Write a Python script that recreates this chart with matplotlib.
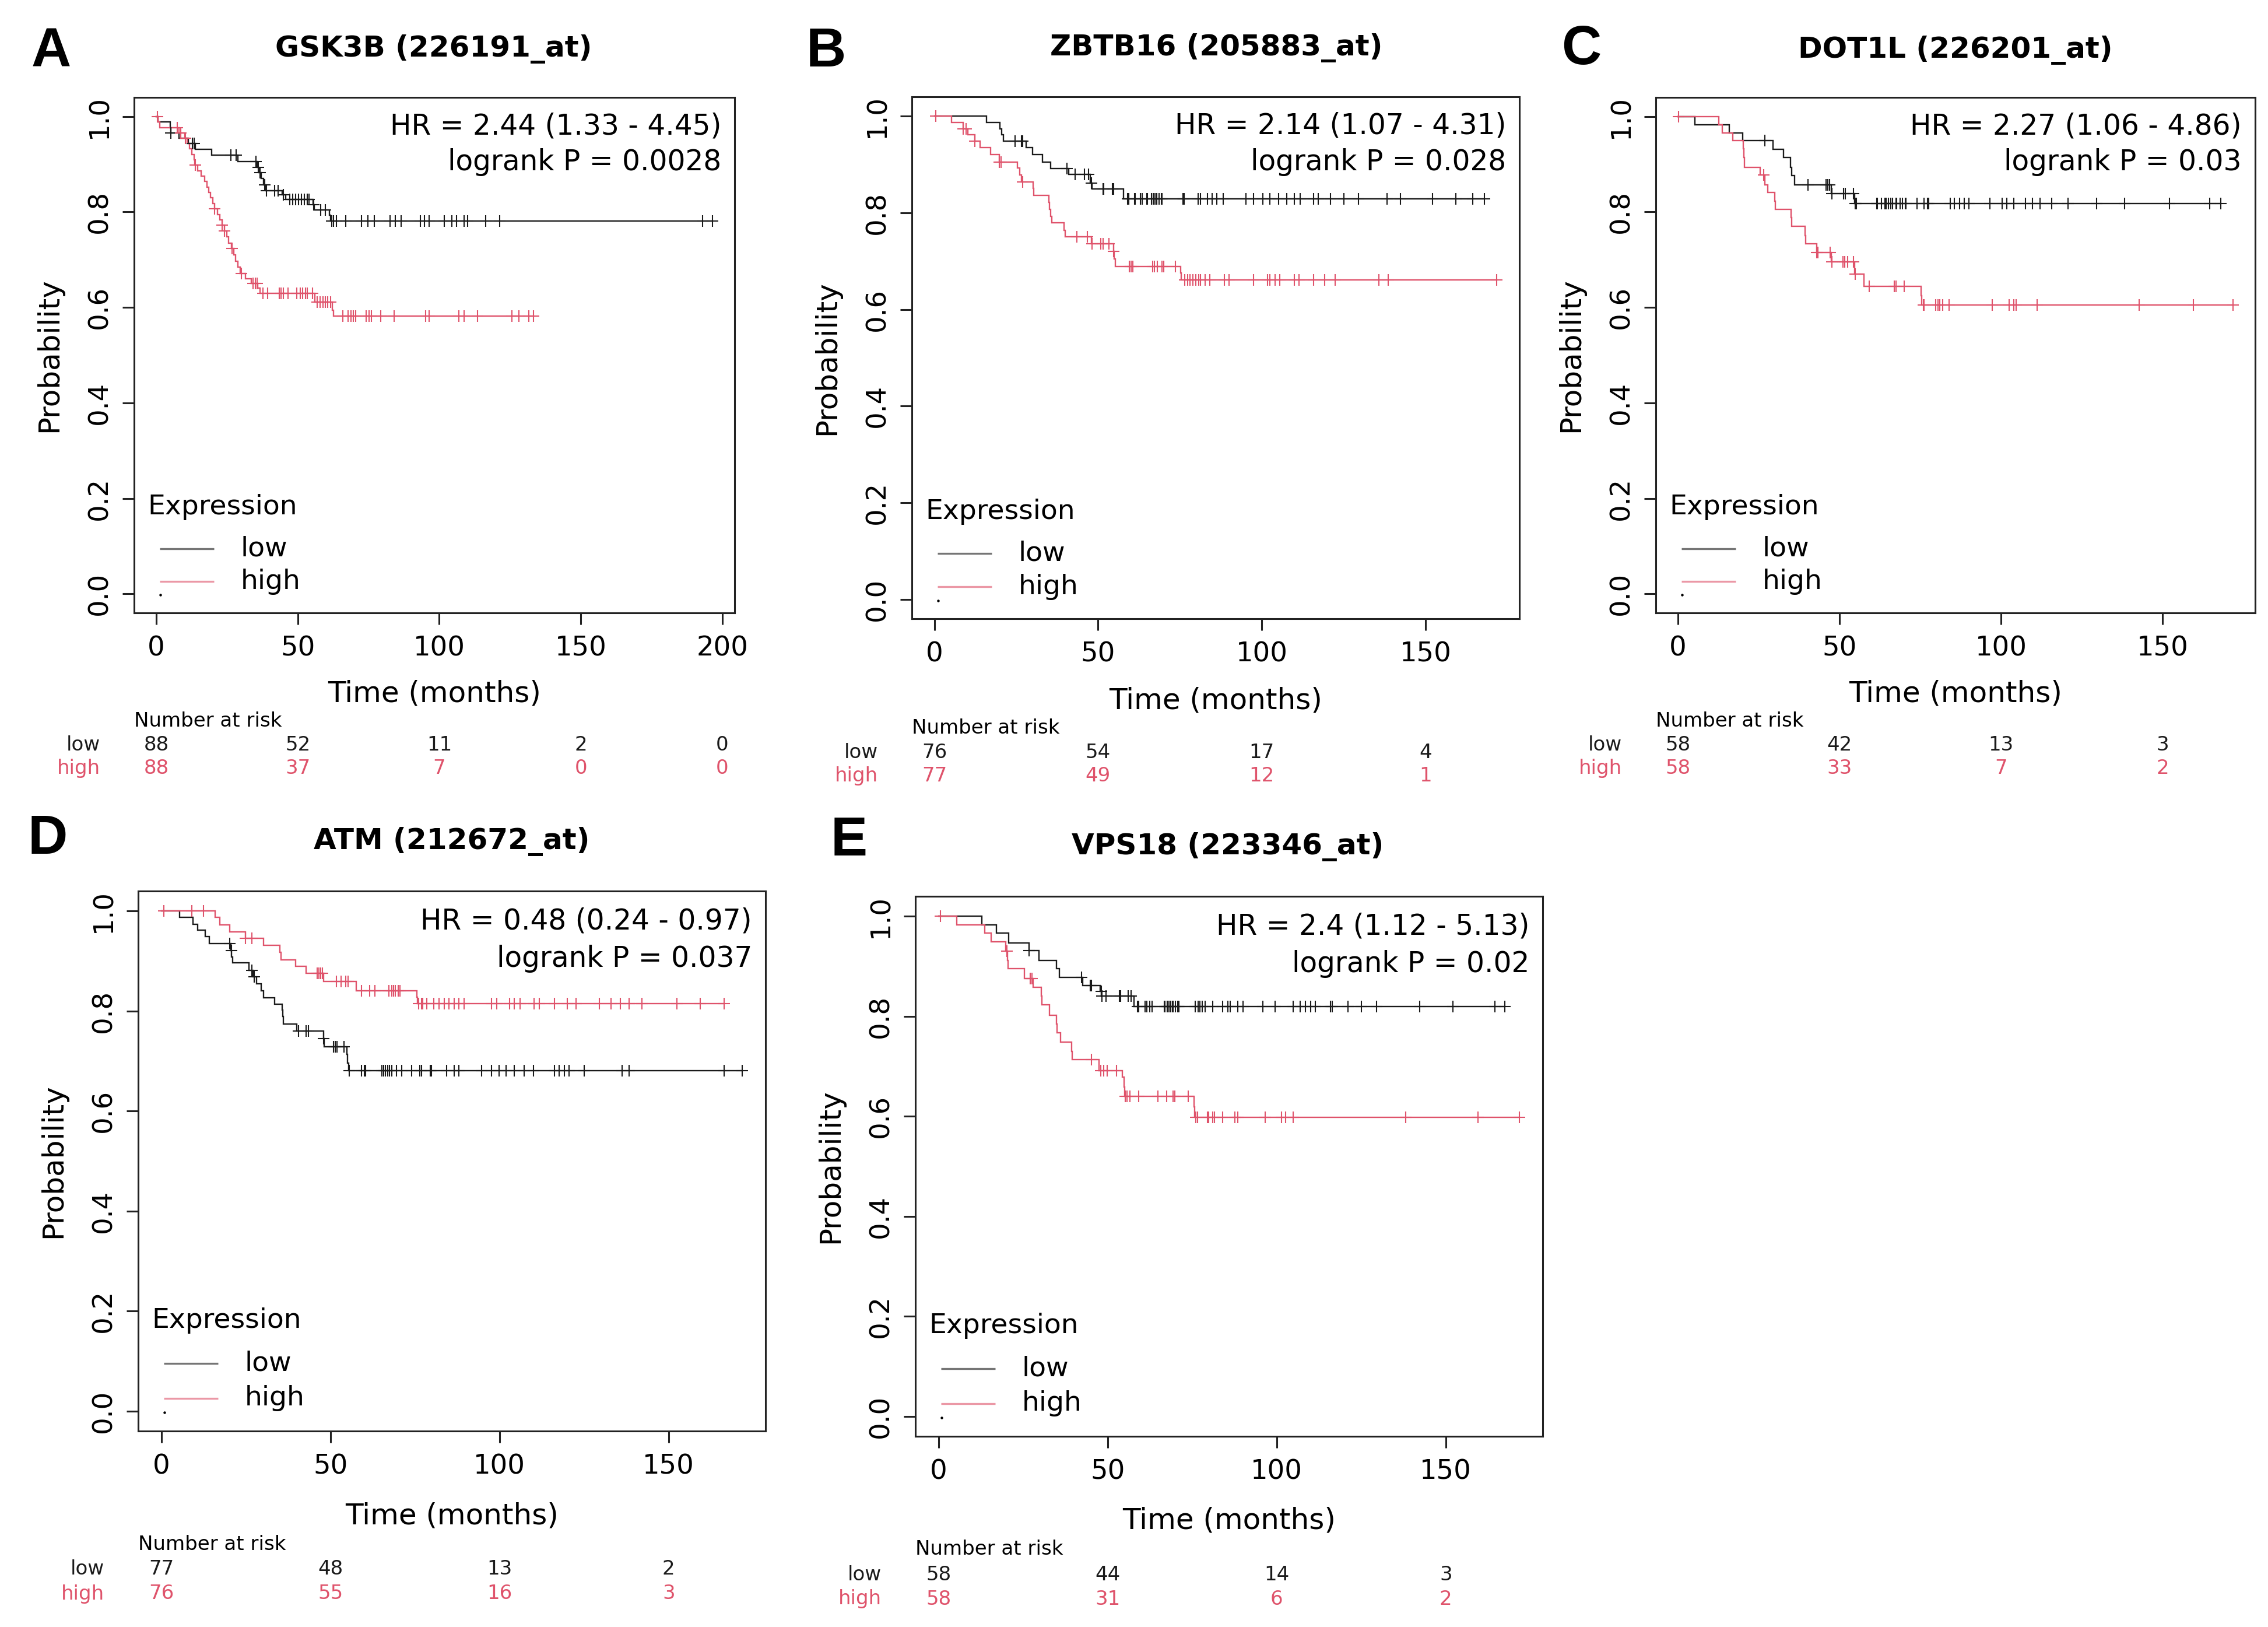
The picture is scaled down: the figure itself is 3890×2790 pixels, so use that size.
import numpy as np
import matplotlib
matplotlib.use("Agg")
import matplotlib.pyplot as plt
from matplotlib.transforms import blended_transform_factory

W, H = 3891, 2790
DPI = 100
LOW_COLOR = "#1a1a1a"
HIGH_COLOR = "#DF536B"

# ---------------- data ----------------
# Panel A : GSK3B
A_title = "GSK3B (226191_at)"
A_hr = "HR = 2.44 (1.33 - 4.45)"
A_p = "logrank P = 0.0028"
A_low_t = [0, 0.5, 4.9, 5.2, 8.0, 11.3, 13.8, 19.6, 28.8, 35.6, 36.3, 37.0, 37.8, 38.8, 44.5, 45.8, 55.4, 55.9, 61.2, 61.6]
A_low_s = [1.0, 0.989, 0.977, 0.966, 0.955, 0.943, 0.931, 0.919, 0.906, 0.894, 0.882, 0.870, 0.857, 0.845, 0.836, 0.826, 0.815, 0.804, 0.793, 0.781]
A_low_cens = [5.2, 12.7, 13.4, 26.4, 28.1, 35.3, 36.0, 36.6, 38.3, 39.0, 41.7, 43.1, 44.8, 47.2, 48.2, 49.3,
              50.3, 51.3, 52.3, 53.4, 54.0, 55.7, 58.1, 59.8, 61.9, 62.6, 63.6, 67.0, 72.4, 74.7, 77.0, 82.6,
              84.4, 86.6, 93.3, 94.7, 96.4, 101.8, 104.4, 106.1, 108.7, 110.0, 116.3, 121.4, 193.0, 196.5]
A_high_t = [0, 0.5, 1.3, 8.0, 10.0, 10.8, 11.8, 12.6, 13.3, 13.6, 14.5, 15.8, 17.0, 17.8, 18.5, 19.2, 20.0, 20.6,
            21.6, 22.4, 23.2, 24.0, 24.8, 25.6, 26.5, 27.3, 28.0, 28.8, 29.6, 31.5, 33.5, 35.8, 36.6, 56.1, 62.2, 62.6]
A_high_s = [1.0, 0.989, 0.977, 0.966, 0.955, 0.943, 0.932, 0.920, 0.909, 0.898, 0.886, 0.875, 0.864, 0.852, 0.841,
            0.830, 0.818, 0.807, 0.795, 0.784, 0.773, 0.760, 0.748, 0.735, 0.723, 0.710, 0.697, 0.684, 0.671, 0.660,
            0.650, 0.640, 0.630, 0.611, 0.594, 0.582]
A_high_cens = [0.4, 7.3, 8.6, 10.3, 13.8, 20.6, 23.3, 24.0, 26.7, 30.1, 34.2, 34.9, 35.6, 37.6, 39.4, 43.4, 44.1,
               44.8, 46.5, 49.6, 50.9, 51.6, 52.7, 53.4, 55.1, 56.8, 57.8, 58.8, 59.8, 60.5, 61.5, 66.0, 67.7,
               68.7, 69.7, 70.4, 74.2, 75.2, 75.9, 79.3, 84.0, 95.1, 96.4, 107.0, 108.7, 113.4, 125.6, 128.1,
               131.6, 133.3]
A_risk_times = [0, 50, 100, 150, 200]
A_risk_low = [88, 52, 11, 2, 0]
A_risk_high = [88, 37, 7, 0, 0]
A_xticks = [0, 50, 100, 150, 200]

# Panel B : ZBTB16
B_title = "ZBTB16 (205883_at)"
B_hr = "HR = 2.14 (1.07 - 4.31)"
B_p = "logrank P = 0.028"
B_low_t = [0, 15.9, 20.1, 20.5, 21.0, 28.1, 29.9, 33.1, 35.5, 41.1, 47.6, 48.2, 57.7]
B_low_s = [1.0, 0.987, 0.974, 0.961, 0.948, 0.935, 0.921, 0.905, 0.892, 0.879, 0.862, 0.849, 0.829]
B_low_cens = [24.6, 26.6, 27.0, 40.5, 42.9, 45.8, 47.0, 47.9, 51.5, 51.8, 54.4, 54.7, 59.1, 59.4, 61.2, 61.3,
              63.0, 63.5, 64.8, 65.0, 66.4, 66.8, 67.4, 67.9, 68.0, 68.6, 69.4, 69.5, 75.9, 76.3, 80.6, 81.2,
              83.4, 84.9, 86.3, 88.3, 95.2, 97.4, 100.3, 102.5, 105.2, 107.7, 110.0, 111.7, 115.8, 117.3,
              121.0, 125.0, 129.5, 138.2, 142.3, 152.2, 159.3, 164.4, 168.0]
B_high_t = [0, 5.3, 8.8, 10.3, 12.4, 13.9, 17.1, 19.8, 25.4, 26.0, 26.6, 30.2, 30.4, 34.9, 35.2, 35.5, 35.8,
            39.6, 39.9, 47.9, 54.7, 54.9, 55.3, 75.2, 75.4]
B_high_s = [1.0, 0.987, 0.974, 0.961, 0.948, 0.935, 0.920, 0.905, 0.893, 0.878, 0.864, 0.850, 0.836, 0.822,
            0.807, 0.793, 0.779, 0.764, 0.750, 0.736, 0.720, 0.705, 0.689, 0.675, 0.661]
B_high_cens = [0.5, 8.8, 9.7, 12.4, 19.8, 20.4, 26.9, 43.5, 46.7, 48.2, 50.9, 51.5, 53.3, 54.7, 59.5, 60.1,
               60.7, 66.6, 67.2, 68.1, 69.5, 70.1, 73.7, 76.4, 77.3, 78.1, 79.0, 79.9, 80.8, 81.2, 82.7, 84.1,
               88.6, 90.0, 97.4, 101.8, 102.5, 104.0, 105.5, 109.9, 111.4, 115.8, 119.2, 122.4, 135.7, 138.6,
               171.8]
B_risk_times = [0, 50, 100, 150]
B_risk_low = [76, 54, 17, 4]
B_risk_high = [77, 49, 12, 1]
B_xticks = [0, 50, 100, 150]

# Panel C : DOT1L
C_title = "DOT1L (226201_at)"
C_hr = "HR = 2.27 (1.06 - 4.86)"
C_p = "logrank P = 0.03"
C_low_t = [0, 5.3, 15.8, 20.0, 29.4, 32.7, 34.8, 35.2, 36.0, 47.4, 54.6]
C_low_s = [1.0, 0.983, 0.966, 0.949, 0.931, 0.914, 0.894, 0.876, 0.857, 0.839, 0.818]
C_low_cens = [26.9, 40.2, 45.9, 46.4, 47.0, 47.6, 51.3, 51.8, 54.3, 54.9, 55.3, 61.5, 61.8, 63.0, 64.0, 64.5,
              65.2, 65.9, 66.4, 67.4, 67.6, 68.8, 69.4, 70.3, 70.6, 74.0, 76.2, 77.2, 77.6, 84.2, 85.6, 87.1,
              88.6, 90.0, 96.6, 100.3, 101.7, 104.0, 107.6, 109.8, 112.0, 115.6, 120.8, 129.5, 138.3, 152.2,
              164.6, 168.0]
C_high_t = [0, 12.7, 13.7, 17.0, 20.2, 20.4, 20.6, 25.4, 26.9, 27.8, 29.9, 30.1, 35.0, 35.2, 39.4, 39.6, 42.9,
            47.4, 54.6, 57.6, 75.3, 75.5]
C_high_s = [1.0, 0.983, 0.966, 0.949, 0.932, 0.914, 0.894, 0.878, 0.857, 0.841, 0.823, 0.806, 0.788, 0.770,
            0.751, 0.733, 0.715, 0.695, 0.670, 0.644, 0.625, 0.605]
C_high_cens = [0.2, 26.6, 42.9, 43.3, 47.1, 47.7, 51.0, 51.6, 52.5, 54.3, 54.8, 59.1, 66.9, 67.5, 70.0, 76.0,
               76.2, 79.8, 80.4, 81.0, 82.0, 83.9, 97.3, 102.5, 103.9, 104.6, 111.2, 142.7, 159.5, 171.8]
C_risk_times = [0, 50, 100, 150]
C_risk_low = [58, 42, 13, 3]
C_risk_high = [58, 33, 7, 2]
C_xticks = [0, 50, 100, 150]

# Panel D : ATM
D_title = "ATM (212672_at)"
D_hr = "HR = 0.48 (0.24 - 0.97)"
D_p = "logrank P = 0.037"
D_low_t = [0, 5.3, 9.3, 10.7, 13.0, 14.2, 20.5, 20.8, 21.0, 25.9, 27.1, 28.2, 29.5, 30.2, 33.4, 35.7, 35.9,
           36.1, 40.0, 48.0, 48.2, 54.9, 55.1, 55.4]
D_low_s = [1.0, 0.987, 0.974, 0.962, 0.949, 0.935, 0.921, 0.908, 0.896, 0.881, 0.869, 0.855, 0.840, 0.826,
           0.814, 0.802, 0.789, 0.774, 0.760, 0.745, 0.729, 0.713, 0.696, 0.681]
D_low_cens = [20.2, 20.7, 26.8, 27.4, 40.5, 42.8, 43.4, 48.0, 50.9, 51.4, 52.0, 54.0, 55.5, 59.2, 60.0, 60.3,
              65.2, 65.8, 66.3, 66.9, 67.5, 68.1, 69.5, 71.0, 74.0, 76.4, 76.9, 79.5, 79.9, 84.3, 86.6, 88.0,
              94.7, 97.7, 99.9, 102.0, 104.3, 107.3, 110.0, 116.2, 117.7, 119.1, 120.6, 125.0, 136.2, 138.4,
              166.5, 171.8]
D_high_t = [0, 15.9, 17.3, 20.2, 24.8, 30.2, 35.1, 35.3, 39.7, 42.8, 48.0, 57.7, 75.5, 75.7]
D_high_s = [1.0, 0.987, 0.972, 0.958, 0.945, 0.931, 0.917, 0.902, 0.889, 0.875, 0.859, 0.840, 0.828, 0.815]
D_high_cens = [0.7, 9.0, 12.4, 24.8, 26.8, 46.0, 46.6, 47.1, 47.7, 51.7, 53.2, 54.6, 55.2, 59.2, 61.5, 63.2,
               67.2, 68.1, 68.6, 69.2, 70.1, 70.6, 76.1, 76.9, 77.2, 78.4, 80.6, 82.1, 83.6, 85.1, 86.6, 88.0,
               89.5, 97.7, 99.2, 102.9, 104.3, 106.0, 110.3, 111.7, 116.2, 120.0, 122.6, 129.5, 133.0, 135.8,
               138.4, 142.1, 152.5, 159.4, 166.5]
D_risk_times = [0, 50, 100, 150]
D_risk_low = [77, 48, 13, 2]
D_risk_high = [76, 55, 16, 3]
D_xticks = [0, 50, 100, 150]

# Panel E : VPS18
E_title = "VPS18 (223346_at)"
E_hr = "HR = 2.4 (1.12 - 5.13)"
E_p = "logrank P = 0.02"
E_low_t = [0, 12.8, 17.1, 20.8, 26.8, 29.7, 34.9, 35.7, 42.6, 47.8, 48.2, 57.8]
E_low_s = [1.0, 0.983, 0.966, 0.947, 0.932, 0.912, 0.895, 0.878, 0.862, 0.850, 0.841, 0.820]
E_low_cens = [26.8, 42.3, 44.9, 45.2, 48.1, 48.3, 49.5, 53.5, 53.8, 56.1, 56.9, 58.8, 59.2, 61.1, 61.5, 62.5,
              63.2, 66.7, 67.0, 67.6, 67.7, 68.1, 68.7, 69.2, 69.3, 70.1, 70.7, 71.0, 75.9, 76.7, 77.3, 77.9,
              78.8, 81.0, 84.0, 85.5, 86.3, 88.5, 90.0, 95.9, 99.6, 104.8, 107.0, 108.5, 110.0, 111.4, 115.9,
              116.5, 121.1, 125.0, 129.5, 142.3, 152.2, 164.5, 167.5]
E_high_t = [0, 5.4, 13.6, 15.6, 19.9, 20.3, 20.5, 25.4, 27.9, 30.3, 30.5, 32.8, 34.9, 35.1, 36.0, 39.4, 39.6,
            47.5, 54.3, 54.8, 55.0, 75.6, 75.8]
E_high_s = [1.0, 0.983, 0.966, 0.949, 0.930, 0.912, 0.895, 0.876, 0.858, 0.840, 0.823, 0.802, 0.784, 0.767,
            0.748, 0.730, 0.713, 0.691, 0.678, 0.659, 0.640, 0.619, 0.598]
E_high_cens = [0.5, 20.2, 27.1, 27.7, 45.2, 48.0, 48.9, 49.8, 52.6, 55.2, 55.8, 56.6, 59.2, 64.9, 67.5, 69.3,
               69.9, 73.8, 76.1, 76.6, 79.6, 79.9, 81.1, 81.6, 84.0, 87.7, 88.5, 96.6, 101.5, 102.6, 104.8,
               138.1, 159.6, 171.8]
E_risk_times = [0, 50, 100, 150]
E_risk_low = [58, 44, 14, 3]
E_risk_high = [58, 31, 6, 2]
E_xticks = [0, 50, 100, 150]

yticks = [0.0, 0.2, 0.4, 0.6, 0.8, 1.0]
ytick_labels = ["0.0", "0.2", "0.4", "0.6", "0.8", "1.0"]
group_labels = ["low", "high"]

panels = [
    dict(letter="A", title=A_title, hr=A_hr, p=A_p, low=(A_low_t, A_low_s, A_low_cens),
         high=(A_high_t, A_high_s, A_high_cens), rt=A_risk_times, rl=A_risk_low, rh=A_risk_high, xt=A_xticks),
    dict(letter="B", title=B_title, hr=B_hr, p=B_p, low=(B_low_t, B_low_s, B_low_cens),
         high=(B_high_t, B_high_s, B_high_cens), rt=B_risk_times, rl=B_risk_low, rh=B_risk_high, xt=B_xticks),
    dict(letter="C", title=C_title, hr=C_hr, p=C_p, low=(C_low_t, C_low_s, C_low_cens),
         high=(C_high_t, C_high_s, C_high_cens), rt=C_risk_times, rl=C_risk_low, rh=C_risk_high, xt=C_xticks),
    dict(letter="D", title=D_title, hr=D_hr, p=D_p, low=(D_low_t, D_low_s, D_low_cens),
         high=(D_high_t, D_high_s, D_high_cens), rt=D_risk_times, rl=D_risk_low, rh=D_risk_high, xt=D_xticks),
    dict(letter="E", title=E_title, hr=E_hr, p=E_p, low=(E_low_t, E_low_s, E_low_cens),
         high=(E_high_t, E_high_s, E_high_cens), rt=E_risk_times, rl=E_risk_low, rh=E_risk_high, xt=E_xticks),
]

# ---------------- layout (pixels) ----------------
layout = {
    "A": dict(box=(230, 167, 1260, 1051), title=(744, 84), letter=(54, 114)),
    "B": dict(box=(1564, 166, 2606, 1061), title=(2086, 82), letter=(1383, 114)),
    "C": dict(box=(2840, 167, 3868, 1051), title=(3354, 86), letter=(2678, 110)),
    "D": dict(box=(237, 1528, 1313, 2454), title=(775, 1443), letter=(48, 1464)),
    "E": dict(box=(1570, 1537, 2646, 2463), title=(2106, 1452), letter=(1425, 1467)),
}

plt.rcParams["font.family"] = ["DejaVu Sans"]
fig = plt.figure(figsize=(W / DPI, H / DPI), dpi=DPI)
fig.patch.set_facecolor("white")


def fx(px):
    return px / W


def fy(py):
    return 1 - py / H


def km_curve(ax, t, s, cens, color):
    t = np.asarray(t, float)
    s = np.asarray(s, float)
    cens = np.asarray(cens, float)
    tend = max(t.max(), cens.max())
    tt = np.append(t, tend)
    ss = np.append(s, s[-1])
    ax.step(tt, ss, where="post", color=color, lw=1.7, solid_joinstyle="miter", zorder=3)
    idx = np.searchsorted(t, cens, side="right") - 1
    ax.plot(cens, s[idx], "+", color=color, ms=15, mew=1.5, zorder=4)
    return tend


for pan in panels:
    L = layout[pan["letter"]]
    l, t, r, b = L["box"]
    bw, bh = r - l, b - t
    sc = bh / 926.0
    ax = fig.add_axes([fx(l), fy(b), bw / W, bh / H])

    m1 = km_curve(ax, *pan["low"], LOW_COLOR)
    m2 = km_curve(ax, *pan["high"], HIGH_COLOR)
    M = max(m1, m2)
    ax.set_xlim(-0.04 * M, 1.04 * M)
    ax.set_ylim(-0.04, 1.04)

    for sp in ax.spines.values():
        sp.set_linewidth(2.2)
        sp.set_color("#222222")
    ax.set_xticks(pan["xt"])
    ax.set_xticklabels([str(v) for v in pan["xt"]])
    ax.set_yticks(yticks)
    ax.set_yticklabels(ytick_labels, rotation=90, va="center")
    ax.tick_params(axis="both", length=14.5, width=2.2, color="#222222", labelsize=33.5)
    ax.tick_params(axis="x", pad=13)
    ax.tick_params(axis="y", pad=12)

    # HR text
    ax.text(1 - 23 / bw, 1 - 0.0555, pan["hr"], transform=ax.transAxes, ha="right", va="center", fontsize=35)
    ax.text(1 - 23 / bw, 1 - 0.125, pan["p"], transform=ax.transAxes, ha="right", va="center", fontsize=35)

    # legend
    ax.text(23 / bw, 0.205, "Expression", transform=ax.transAxes, ha="left", va="center", fontsize=34)
    for gy, col, lab in [(0.125, LOW_COLOR, group_labels[0]), (0.061, HIGH_COLOR, group_labels[1])]:
        ax.plot([44 / bw, 137 / bw], [gy, gy], transform=ax.transAxes, color=col, lw=2.4, alpha=0.6,
                solid_capstyle="butt")
        ax.text(183 / bw, gy, lab, transform=ax.transAxes, ha="left", va="center", fontsize=34)
    ax.plot([45 / bw], [0.035], transform=ax.transAxes, marker="o", ms=2.2, color="black", lw=0)

    # axis labels
    fig.text(fx(l - 146), fy((t + b) / 2), "Probability", rotation=90, ha="center", va="center", fontsize=36)
    fig.text(fx((l + r) / 2), fy(b + 145 * sc), "Time (months)", ha="center", va="center", fontsize=36)

    # title & letter
    tx, ty = L["title"]
    fig.text(fx(tx), fy(ty), pan["title"], ha="center", va="center", fontsize=36, fontweight="bold")
    lx, ly = L["letter"]
    fig.text(fx(lx), fy(ly), pan["letter"], ha="left", va="baseline", fontsize=68, fontweight="bold",
             family=["Liberation Sans", "DejaVu Sans"])

    # risk table
    fig.text(fx(l), fy(b + 194 * sc), "Number at risk", ha="left", va="center", fontsize=24.5)
    fig.text(fx(l - 58), fy(b + 237 * sc), group_labels[0], ha="right", va="center", fontsize=24.5,
             color=LOW_COLOR)
    fig.text(fx(l - 58), fy(b + 279 * sc), group_labels[1], ha="right", va="center", fontsize=24.5,
             color=HIGH_COLOR)
    trans = blended_transform_factory(ax.transData, fig.transFigure)
    for xv, nl, nh in zip(pan["rt"], pan["rl"], pan["rh"]):
        ax.text(xv, fy(b + 237 * sc), str(nl), transform=trans, ha="center", va="center", fontsize=24.5,
                color=LOW_COLOR, clip_on=False)
        ax.text(xv, fy(b + 279 * sc), str(nh), transform=trans, ha="center", va="center", fontsize=24.5,
                color=HIGH_COLOR, clip_on=False)

fig.savefig("out.png", dpi=DPI, facecolor="white")
